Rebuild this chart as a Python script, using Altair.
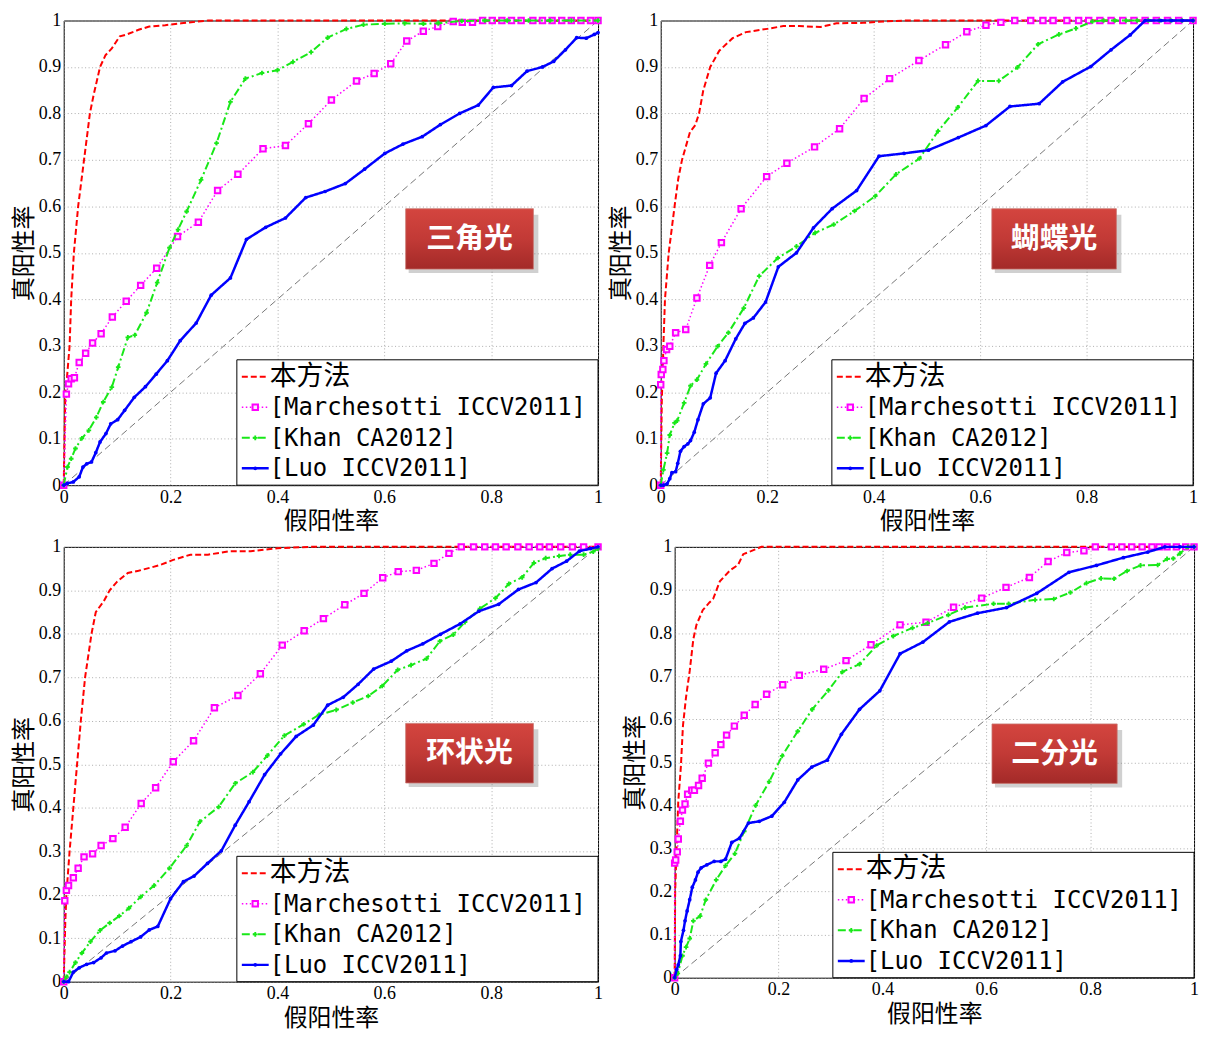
import altair as alt
import pandas as pd

# ---------------- data ----------------
panel_ids = ["tl", "tr", "bl", "br"]
panel_names = ["三角光", "蝴蝶光", "环状光", "二分光"]
series_ids = ["ours", "marchesotti", "khan", "luo"]
legend_labels = ["本方法", "[Marchesotti ICCV2011]", "[Khan CA2012]", "[Luo ICCV2011]"]
x_ticks = [0, 0.2, 0.4, 0.6, 0.8, 1]
y_ticks = [0, 0.1, 0.2, 0.3, 0.4, 0.5, 0.6, 0.7, 0.8, 0.9, 1]
x_title = "假阳性率"
y_title = "真阳性率"

# label-box extents per panel (x0, x1, y0, y1) in data units
label_box_x0 = [0.64, 0.622, 0.64, 0.611]
label_box_x1 = [0.879, 0.856, 0.879, 0.852]
label_box_y0 = [0.465, 0.465, 0.457, 0.451]
label_box_y1 = [0.595, 0.595, 0.594, 0.589]

# --- 三角光 (top-left)
tl_ours_x = [0, 0.003, 0.006, 0.011, 0.014, 0.019, 0.027, 0.038, 0.049, 0.056, 0.068, 0.078, 0.09, 0.105, 0.118, 0.14, 0.16, 0.19, 0.22, 0.27, 1.0]
tl_ours_y = [0, 0.2, 0.23, 0.3, 0.4, 0.5, 0.6, 0.7, 0.8, 0.84, 0.9, 0.925, 0.94, 0.966, 0.97, 0.98, 0.987, 0.99, 0.994, 1.0, 1.0]
tl_mar_x = [0, 0.005, 0.009, 0.014, 0.02, 0.029, 0.041, 0.054, 0.07, 0.091, 0.117, 0.144, 0.174, 0.213, 0.252, 0.288, 0.326, 0.373, 0.415, 0.458,
            0.501, 0.548, 0.581, 0.612, 0.642, 0.673, 0.7, 0.729, 0.746, 0.765, 0.784, 0.802, 0.82, 0.838, 0.856, 0.878, 0.896, 0.914, 0.932, 0.95,
            0.968, 0.986, 1.0]
tl_mar_y = [0, 0.196, 0.218, 0.229, 0.231, 0.264, 0.284, 0.306, 0.326, 0.362, 0.396, 0.43, 0.467, 0.535, 0.566, 0.634, 0.669, 0.724, 0.731, 0.778,
            0.829, 0.87, 0.886, 0.907, 0.956, 0.977, 0.987, 0.998, 0.996, 0.996, 1, 1, 1, 1, 1, 1, 1, 1, 1, 1,
            1, 1, 1]
tl_khan_x = [0, 0.007, 0.014, 0.022, 0.034, 0.047, 0.061, 0.074, 0.09, 0.102, 0.12, 0.133, 0.155, 0.175, 0.198, 0.214, 0.23, 0.257, 0.286, 0.312,
             0.34, 0.371, 0.4, 0.429, 0.463, 0.494, 0.529, 0.561, 0.601, 0.638, 0.673, 0.701, 0.745, 0.788, 0.83, 0.87, 0.91, 0.95, 1.0]
tl_khan_y = [0, 0.039, 0.057, 0.079, 0.101, 0.118, 0.146, 0.179, 0.211, 0.254, 0.318, 0.323, 0.371, 0.436, 0.511, 0.55, 0.589, 0.657, 0.736, 0.825,
             0.875, 0.887, 0.893, 0.911, 0.932, 0.963, 0.982, 0.991, 0.993, 0.994, 0.993, 0.994, 0.999, 1, 1, 1, 1, 1, 1]
tl_luo_x = [0, 0.007, 0.018, 0.029, 0.036, 0.043, 0.052, 0.06, 0.068, 0.079, 0.088, 0.101, 0.114, 0.132, 0.153, 0.173, 0.194, 0.218, 0.248, 0.276,
            0.312, 0.342, 0.378, 0.415, 0.453, 0.489, 0.527, 0.563, 0.601, 0.635, 0.671, 0.705, 0.741, 0.776, 0.804, 0.838, 0.867, 0.896, 0.917, 0.939,
            0.96, 0.978, 0.993, 1.0]
tl_luo_y = [0, 0.004, 0.007, 0.018, 0.039, 0.046, 0.05, 0.07, 0.093, 0.111, 0.132, 0.141, 0.161, 0.189, 0.212, 0.239, 0.268, 0.311, 0.349, 0.409,
            0.446, 0.529, 0.555, 0.575, 0.619, 0.632, 0.649, 0.68, 0.714, 0.734, 0.75, 0.776, 0.8, 0.818, 0.856, 0.86, 0.891, 0.9, 0.912, 0.937,
            0.963, 0.962, 0.97, 0.974]

# --- 蝴蝶光 (top-right)
tr_ours_x = [0, 0.002, 0.005, 0.008, 0.015, 0.026, 0.033, 0.04, 0.055, 0.065, 0.072, 0.08, 0.093, 0.11, 0.135, 0.16, 0.2, 0.23, 0.26, 0.3, 0.33, 0.38, 0.42, 0.46, 1.0]
tr_ours_y = [0, 0.18, 0.3, 0.4, 0.5, 0.6, 0.66, 0.7, 0.76, 0.775, 0.8, 0.85, 0.9, 0.935, 0.962, 0.975, 0.982, 0.988, 0.988, 0.986, 0.994, 0.995, 0.998, 1.0, 1.0]
tr_mar_x = [0, 0, 0.001, 0.004, 0.006, 0.011, 0.017, 0.028, 0.047, 0.068, 0.092, 0.114, 0.151, 0.199, 0.237, 0.289, 0.336, 0.382, 0.43, 0.485,
            0.535, 0.575, 0.611, 0.639, 0.665, 0.695, 0.718, 0.737, 0.763, 0.785, 0.804, 0.825, 0.846, 0.868, 0.889, 0.91, 0.931, 0.952, 0.973, 1.0]
tr_mar_y = [0, 0.216, 0.238, 0.249, 0.268, 0.292, 0.299, 0.328, 0.335, 0.403, 0.473, 0.522, 0.595, 0.664, 0.693, 0.728, 0.767, 0.832, 0.875, 0.914,
            0.948, 0.976, 0.99, 0.996, 1, 1, 1, 1, 1, 1, 1, 1, 1, 1, 1, 1, 1, 1, 1, 1]
tr_khan_x = [0, 0.005, 0.012, 0.017, 0.026, 0.031, 0.044, 0.056, 0.068, 0.085, 0.107, 0.127, 0.156, 0.185, 0.22, 0.255, 0.29, 0.325, 0.364, 0.403,
             0.442, 0.486, 0.521, 0.558, 0.596, 0.635, 0.67, 0.709, 0.748, 0.78, 0.811, 0.832, 0.853, 0.874, 0.895, 0.916, 0.937, 0.958, 0.979, 1.0]
tr_khan_y = [0, 0.033, 0.069, 0.108, 0.134, 0.139, 0.177, 0.214, 0.227, 0.261, 0.299, 0.328, 0.381, 0.45, 0.489, 0.514, 0.543, 0.561, 0.59, 0.622,
             0.669, 0.703, 0.762, 0.813, 0.87, 0.87, 0.899, 0.949, 0.97, 0.983, 0.998, 1, 1, 1, 1, 1, 1, 1, 1, 1]
tr_luo_x = [0, 0.005, 0.012, 0.017, 0.021, 0.028, 0.032, 0.037, 0.044, 0.051, 0.056, 0.063, 0.07, 0.08, 0.093, 0.104, 0.121, 0.141, 0.158, 0.174,
            0.197, 0.221, 0.255, 0.287, 0.322, 0.368, 0.41, 0.457, 0.503, 0.559, 0.611, 0.656, 0.711, 0.755, 0.808, 0.846, 0.882, 0.91, 0.94, 0.96,
            0.98, 1.0]
tr_luo_y = [0, 0, 0.003, 0.014, 0.027, 0.029, 0.047, 0.073, 0.083, 0.089, 0.096, 0.114, 0.141, 0.175, 0.188, 0.241, 0.268, 0.315, 0.348, 0.36,
            0.394, 0.47, 0.5, 0.554, 0.595, 0.634, 0.708, 0.714, 0.721, 0.748, 0.774, 0.815, 0.821, 0.868, 0.901, 0.937, 0.969, 1, 1, 1,
            1, 1]

# --- 环状光 (bottom-left)
bl_ours_x = [0, 0.003, 0.005, 0.011, 0.018, 0.025, 0.032, 0.04, 0.052, 0.06, 0.075, 0.086, 0.1, 0.12, 0.14, 0.18, 0.205, 0.237, 0.27, 0.31, 0.35, 0.4, 0.46, 1.0]
bl_ours_y = [0, 0.14, 0.2, 0.3, 0.4, 0.5, 0.6, 0.7, 0.8, 0.85, 0.875, 0.9, 0.92, 0.94, 0.945, 0.958, 0.97, 0.982, 0.982, 0.99, 0.99, 0.997, 1.0, 1.0]
bl_mar_x = [0, 0.002, 0.005, 0.009, 0.018, 0.027, 0.038, 0.054, 0.07, 0.092, 0.115, 0.145, 0.172, 0.205, 0.243, 0.282, 0.326, 0.368, 0.409, 0.45,
            0.486, 0.526, 0.562, 0.597, 0.626, 0.66, 0.693, 0.721, 0.744, 0.767, 0.788, 0.808, 0.828, 0.85, 0.871, 0.891, 0.909, 0.93, 0.952, 0.973,
            1.0]
bl_mar_y = [0, 0.186, 0.21, 0.221, 0.239, 0.261, 0.287, 0.294, 0.313, 0.329, 0.355, 0.41, 0.446, 0.506, 0.554, 0.63, 0.658, 0.708, 0.774, 0.807,
            0.835, 0.867, 0.893, 0.929, 0.943, 0.946, 0.962, 0.985, 1.0, 1, 1, 1, 1, 1, 1, 1, 1, 1, 1, 1,
            1]
bl_khan_x = [0, 0.005, 0.011, 0.022, 0.034, 0.05, 0.068, 0.086, 0.104, 0.122, 0.144, 0.169, 0.198, 0.23, 0.255, 0.29, 0.321, 0.354, 0.381, 0.413,
             0.449, 0.478, 0.51, 0.541, 0.57, 0.596, 0.625, 0.65, 0.679, 0.704, 0.729, 0.751, 0.779, 0.808, 0.833, 0.858, 0.88, 0.902, 0.927, 0.948,
             0.973, 0.991, 1.0]
bl_khan_y = [0, 0.011, 0.022, 0.044, 0.066, 0.092, 0.118, 0.135, 0.151, 0.169, 0.195, 0.221, 0.261, 0.313, 0.368, 0.402, 0.456, 0.482, 0.52, 0.566,
             0.592, 0.614, 0.625, 0.642, 0.657, 0.68, 0.717, 0.728, 0.743, 0.783, 0.798, 0.827, 0.858, 0.882, 0.915, 0.93, 0.963, 0.974, 0.979, 0.982,
             0.982, 0.989, 0.996]
bl_luo_x = [0, 0.009, 0.018, 0.029, 0.043, 0.056, 0.07, 0.08, 0.096, 0.11, 0.126, 0.144, 0.16, 0.176, 0.2, 0.224, 0.244, 0.269, 0.295, 0.321,
            0.347, 0.376, 0.406, 0.435, 0.467, 0.494, 0.523, 0.551, 0.58, 0.613, 0.642, 0.672, 0.705, 0.742, 0.777, 0.814, 0.851, 0.884, 0.914, 0.941,
            0.965, 0.986, 1.0]
bl_luo_y = [0, 0, 0.022, 0.032, 0.04, 0.044, 0.055, 0.066, 0.071, 0.082, 0.092, 0.103, 0.119, 0.127, 0.191, 0.23, 0.243, 0.272, 0.301, 0.36,
            0.414, 0.476, 0.524, 0.564, 0.59, 0.636, 0.654, 0.684, 0.719, 0.737, 0.761, 0.777, 0.799, 0.823, 0.852, 0.868, 0.902, 0.918, 0.95, 0.967,
            0.99, 0.996, 1.0]

# --- 二分光 (bottom-right)
br_ours_x = [0, 0.001, 0.004, 0.007, 0.012, 0.016, 0.022, 0.029, 0.036, 0.042, 0.054, 0.067, 0.074, 0.087, 0.107, 0.122, 0.132, 0.147, 0.167, 1.0]
br_ours_y = [0, 0.2, 0.31, 0.41, 0.49, 0.585, 0.652, 0.712, 0.786, 0.819, 0.853, 0.871, 0.879, 0.92, 0.946, 0.958, 0.983, 0.99, 1.0, 1.0]
br_mar_x = [0, 0, 0.002, 0.005, 0.007, 0.011, 0.015, 0.02, 0.025, 0.033, 0.038, 0.046, 0.053, 0.065, 0.078, 0.089, 0.1, 0.115, 0.134, 0.155,
            0.177, 0.208, 0.24, 0.287, 0.33, 0.378, 0.434, 0.484, 0.537, 0.591, 0.638, 0.683, 0.719, 0.755, 0.788, 0.81, 0.841, 0.861, 0.88, 0.9,
            0.919, 0.933, 0.948, 0.966, 0.984, 1.0]
br_mar_y = [0, 0.266, 0.273, 0.292, 0.322, 0.363, 0.389, 0.403, 0.426, 0.435, 0.435, 0.446, 0.463, 0.498, 0.522, 0.541, 0.563, 0.584, 0.609, 0.634,
            0.658, 0.68, 0.702, 0.716, 0.736, 0.773, 0.819, 0.825, 0.86, 0.881, 0.906, 0.929, 0.966, 0.987, 0.991, 1, 1, 1, 1, 1,
            1, 1, 1, 1, 1, 1]
br_khan_x = [0, 0.006, 0.015, 0.022, 0.029, 0.036, 0.049, 0.06, 0.08, 0.098, 0.116, 0.134, 0.156, 0.182, 0.207, 0.237, 0.265, 0.296, 0.323, 0.356,
             0.389, 0.421, 0.458, 0.487, 0.527, 0.559, 0.614, 0.643, 0.694, 0.73, 0.762, 0.793, 0.821, 0.846, 0.871, 0.897, 0.93, 0.948, 0.96, 0.973,
             0.988, 1.0]
br_khan_y = [0, 0.01, 0.051, 0.071, 0.091, 0.132, 0.143, 0.181, 0.227, 0.26, 0.288, 0.34, 0.4, 0.455, 0.515, 0.572, 0.623, 0.667, 0.71, 0.728,
             0.771, 0.793, 0.812, 0.823, 0.842, 0.859, 0.868, 0.868, 0.877, 0.879, 0.894, 0.916, 0.927, 0.926, 0.944, 0.957, 0.958, 0.972, 0.973, 0.985,
             1.0, 1.0]
br_luo_x = [0, 0.004, 0.007, 0.011, 0.012, 0.017, 0.02, 0.024, 0.029, 0.034, 0.04, 0.045, 0.051, 0.062, 0.076, 0.089, 0.098, 0.11, 0.125, 0.142,
            0.163, 0.187, 0.211, 0.237, 0.264, 0.294, 0.321, 0.356, 0.395, 0.434, 0.478, 0.529, 0.583, 0.639, 0.697, 0.759, 0.812, 0.864, 0.911, 0.944,
            0.973, 1.0]
br_luo_y = [0, 0.019, 0.03, 0.051, 0.084, 0.11, 0.132, 0.155, 0.181, 0.21, 0.227, 0.245, 0.255, 0.262, 0.27, 0.27, 0.275, 0.314, 0.324, 0.359,
            0.363, 0.375, 0.407, 0.459, 0.489, 0.505, 0.565, 0.623, 0.666, 0.752, 0.779, 0.826, 0.846, 0.859, 0.892, 0.941, 0.957, 0.975, 0.988, 1,
            1, 1]

curves = {
    ("tl", "ours"): (tl_ours_x, tl_ours_y), ("tl", "marchesotti"): (tl_mar_x, tl_mar_y),
    ("tl", "khan"): (tl_khan_x, tl_khan_y), ("tl", "luo"): (tl_luo_x, tl_luo_y),
    ("tr", "ours"): (tr_ours_x, tr_ours_y), ("tr", "marchesotti"): (tr_mar_x, tr_mar_y),
    ("tr", "khan"): (tr_khan_x, tr_khan_y), ("tr", "luo"): (tr_luo_x, tr_luo_y),
    ("bl", "ours"): (bl_ours_x, bl_ours_y), ("bl", "marchesotti"): (bl_mar_x, bl_mar_y),
    ("bl", "khan"): (bl_khan_x, bl_khan_y), ("bl", "luo"): (bl_luo_x, bl_luo_y),
    ("br", "ours"): (br_ours_x, br_ours_y), ("br", "marchesotti"): (br_mar_x, br_mar_y),
    ("br", "khan"): (br_khan_x, br_khan_y), ("br", "luo"): (br_luo_x, br_luo_y),
}

rows = []
for (p, s), (xs_, ys_) in curves.items():
    for i, (a, b) in enumerate(zip(xs_, ys_)):
        rows.append({"panel": p, "series": s, "x": a, "y": b, "i": i})
df = pd.DataFrame(rows)

# ---------------- styles ----------------
STYLE = {
    "ours": dict(color="#ff0000", width=2.0, dash=[6, 3]),
    "marchesotti": dict(color="#ff00ff", width=1.5, dash=[1.5, 2.5]),
    "khan": dict(color="#18e818", width=2.0, dash=[8, 3, 2, 3]),
    "luo": dict(color="#0000ff", width=2.5, dash=[1, 0]),
}
PANEL_SIZE = {"tl": (537, 467), "tr": (535, 467), "bl": (537, 437), "br": (522, 433)}
LEG_W, LEG_H = 363, 126

xscale = alt.Scale(domain=[0, 1], nice=False, zero=False)
yscale = alt.Scale(domain=[0, 1], nice=False, zero=False)


def X(f):
    return alt.X(f, type="quantitative", scale=xscale,
                 axis=alt.Axis(values=x_ticks, format="~g", title=x_title, titlePadding=4))


def Y(f):
    return alt.Y(f, type="quantitative", scale=yscale,
                 axis=alt.Axis(values=y_ticks, format="~g", title=y_title))


def marker(chart, s, enc):
    st = STYLE[s]
    if s == "marchesotti":
        return chart.mark_point(shape="square", size=30, filled=False, fill="#ffe6ff",
                                stroke=st["color"], strokeWidth=2, opacity=1).encode(**enc)
    if s == "khan":
        return chart.mark_point(shape="cross", size=22, filled=True, color=st["color"], opacity=1).encode(**enc)
    return chart.mark_point(shape="circle", size=14, filled=True, color=st["color"], opacity=1).encode(**enc)


def panel(k):
    pid = panel_ids[k]
    w, h = PANEL_SIZE[pid]
    d = df[df.panel == pid]
    layers = []
    diag = alt.Chart(pd.DataFrame({"x": [0, 1], "y": [0, 1]})).mark_line(
        color="#555555", strokeWidth=0.8, strokeDash=[7, 4]).encode(x=X("x"), y=Y("y"))
    layers.append(diag)

    # label box with shadow and gradient
    box = pd.DataFrame({
        "x0": [label_box_x0[k]], "x1": [label_box_x1[k]],
        "y0": [label_box_y0[k]], "y1": [label_box_y1[k]],
        "xc": [(label_box_x0[k] + label_box_x1[k]) / 2],
        "yc": [(label_box_y0[k] + label_box_y1[k]) / 2],
        "t": [panel_names[k]],
    })
    bc = alt.Chart(box)
    layers.append(bc.mark_rect(fill="#777777", opacity=0.35, xOffset=3, x2Offset=5, yOffset=4, y2Offset=6)
                  .encode(x=X("x0"), x2="x1", y=Y("y0"), y2="y1"))
    grad = alt.Gradient(gradient="linear", x1=0, x2=0, y1=0, y2=1,
                        stops=[alt.GradientStop(color="#d4453f", offset=0),
                               alt.GradientStop(color="#c23a36", offset=0.5),
                               alt.GradientStop(color="#a32a28", offset=1)])
    layers.append(bc.mark_rect(fill=grad, stroke="#c97570", strokeWidth=0.8)
                  .encode(x=X("x0"), x2="x1", y=Y("y0"), y2="y1"))
    layers.append(bc.mark_text(font="Noto Sans CJK SC", fontSize=29, fontWeight="bold", color="white",
                               baseline="middle", align="center")
                  .encode(x=X("xc"), y=Y("yc"), text="t:N"))

    # curves
    for s in series_ids:
        st = STYLE[s]
        ds = d[d.series == s]
        layers.append(alt.Chart(ds).mark_line(color=st["color"], strokeWidth=st["width"],
                                              strokeDash=st["dash"])
                      .encode(x=X("x"), y=Y("y"), order="i:Q"))
        if s != "ours":
            layers.append(marker(alt.Chart(ds), s, dict(x=X("x"), y=Y("y"))))

    # legend (drawn inside the bottom-right corner)
    one = alt.Chart(pd.DataFrame({"k": [0]}))
    bx0, by0 = w - LEG_W, h - LEG_H
    layers.append(one.mark_rect(fill="white", stroke="black", strokeWidth=1).encode(
        x=alt.value(bx0), x2=alt.value(w), y=alt.value(by0), y2=alt.value(h)))
    for j, s in enumerate(series_ids):
        st = STYLE[s]
        ry = by0 + 17 + 30.7 * j
        layers.append(one.mark_rule(color=st["color"], strokeWidth=st["width"], strokeDash=st["dash"]).encode(
            x=alt.value(bx0 + 5), x2=alt.value(bx0 + 32), y=alt.value(ry)))
        if s != "ours":
            layers.append(marker(one, s, dict(x=alt.value(bx0 + 18.5), y=alt.value(ry))))
        if s == "ours":
            layers.append(one.mark_text(text=legend_labels[j], font="Noto Sans CJK SC", fontSize=27,
                                        align="left", baseline="middle", color="black").encode(
                x=alt.value(bx0 + 33), y=alt.value(ry)))
        else:
            layers.append(one.mark_text(text=legend_labels[j], font="DejaVu Sans Mono", fontSize=24,
                                        align="left", baseline="middle", color="black").encode(
                x=alt.value(bx0 + 33), y=alt.value(ry + 1)))

    return alt.layer(*layers).properties(width=w, height=h)


row1 = alt.hconcat(panel(0), panel(1), spacing=3)
row2 = alt.hconcat(panel(2), panel(3), spacing=17)
chart = alt.vconcat(row1, row2, spacing=2).properties(
    padding={"left": 4, "top": 0, "right": 0, "bottom": 0},
    background="white",
).configure_view(stroke="black", strokeWidth=1).configure_axis(
    labelFont="Liberation Serif", labelFontSize=18, labelColor="black",
    titleFont="Noto Sans CJK SC", titleFontSize=24, titleFontWeight="normal", titleColor="black",
    ticks=False, domain=False, grid=True, gridColor="#999999", gridDash=[1, 2.5], gridWidth=0.8,
    labelPadding=3, titlePadding=2, labelFlush=False, labelOverlap=False,
)

chart.save("out.html", embed_options={"renderer": "svg", "actions": False})
